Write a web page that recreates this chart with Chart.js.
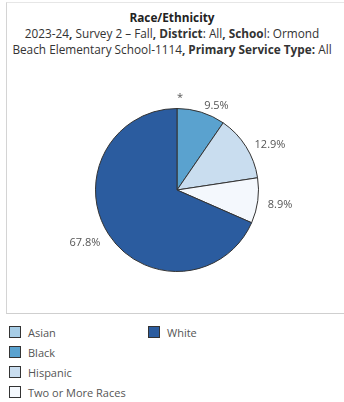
<!DOCTYPE html>
<html>
<head>
<meta charset="utf-8">
<script src="https://cdn.jsdelivr.net/npm/chart.js@4"></script>
<style>
  body { margin: 0; background: #fff; font-family: "Open Sans", sans-serif; color: #333; }
  #panel { position: absolute; left: 6px; top: 2px; width: 340px; height: 310px;
           border-left: 1px solid #d4d4d4; border-top: 1px solid #e6e6e6; border-bottom: 1px solid #cfcfcf; }
  #title { position: absolute; left: 0; top: 9px; width: 344px; text-align: center;
           font-size: 11.8px; line-height: 16px; color: #333; }
  #title .main { font-weight: bold; color: #222; }
  #wrap { position: absolute; left: 57px; top: 85px; width: 240px; height: 210px; }
  #legend { position: absolute; left: 9px; top: 322px; display: grid;
            grid-template-rows: repeat(4, 20px); grid-auto-flow: column; grid-template-columns: 139px 140px;
            font-size: 11px; color: #555; }
  .item { display: flex; align-items: center; height: 20px; }
  .box { width: 10px; height: 10px; border: 1px solid #333; margin-right: 7px; }
</style>
</head>
<body>
<div id="panel"></div>
<div id="title">
  <div class="main">Race/Ethnicity</div>
  <div>2023-24<b>,</b> Survey 2 – Fall<b>, District</b>: All<b>, Schoo</b>l: Ormond</div>
  <div>Beach Elementary School-1114<b>, Primary Service Type:</b> All</div>
</div>
<div id="wrap"><canvas id="pie"></canvas></div>
<div id="legend"></div>
<script>
const groups = ['Asian', 'Black', 'Hispanic', 'Two or More Races', 'White'];
const shares = [0, 9.5, 12.9, 8.9, 67.8];
const shareLabels = ['*', '9.5%', '12.9%', '8.9%', '67.8%'];
const colors = ['#a7cde6', '#5aa2cf', '#c9ddef', '#f4f8fd', '#2b5c9f'];

// labels outside each slice, on the slice's middle angle
const sliceLabels = {
    id: 'sliceLabels',
    afterDatasetsDraw(chart) {
        const ctx = chart.ctx;
        const arcs = chart.getDatasetMeta(0).data;
        ctx.save();
        ctx.font = '11px "Open Sans", sans-serif';
        ctx.fillStyle = '#555';
        ctx.textBaseline = 'middle';
        arcs.forEach((arc, i) => {
            const p = arc.getProps(['x', 'y', 'startAngle', 'endAngle', 'outerRadius'], true);
            const mid = (p.startAngle + p.endAngle) / 2;
            const r = p.outerRadius + 10;
            const x = p.x + Math.cos(mid) * r;
            const y = p.y + Math.sin(mid) * r + 3;
            ctx.textAlign = Math.cos(mid) < -0.05 ? 'right' : 'left';
            ctx.fillText(shareLabels[i], x, i === 0 ? y - 4 : y);
        });
        ctx.restore();
    }
};

const chart = new Chart(document.getElementById('pie'), {
    type: 'pie',
    data: {
        labels: groups,
        datasets: [{
            data: shares,
            backgroundColor: colors,
            borderColor: '#333',
            borderWidth: 1
        }]
    },
    options: {
        responsive: true,
        maintainAspectRatio: false,
        animation: false,
        layout: { padding: 23 },
        plugins: {
            legend: { display: false },
            tooltip: { enabled: false }
        }
    },
    plugins: [sliceLabels]
});

// legend in columns, built from the chart's own legend items
const legendDiv = document.getElementById('legend');
chart.options.plugins.legend.labels.generateLabels(chart).forEach((item) => {
    const row = document.createElement('div');
    row.className = 'item';
    row.innerHTML = `<span class="box" style="background:${item.fillStyle}"></span>${item.text}`;
    legendDiv.appendChild(row);
});
</script>
</body>
</html>
